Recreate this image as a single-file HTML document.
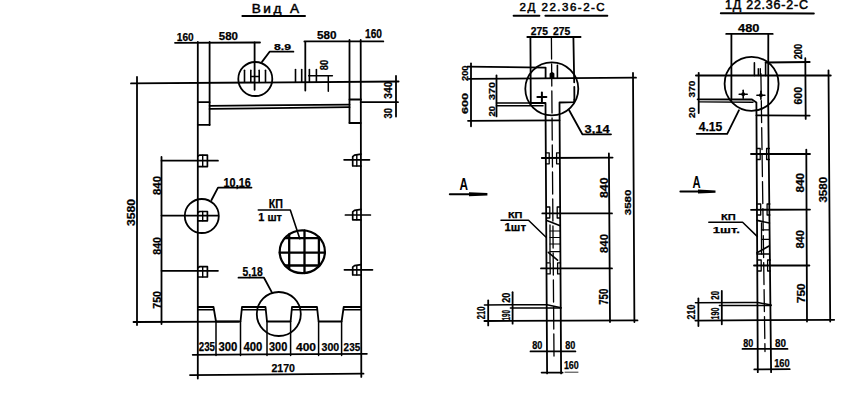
<!DOCTYPE html>
<html><head><meta charset="utf-8"><style>
html,body{margin:0;padding:0;background:#fff;}
body{width:860px;height:407px;overflow:hidden;}
svg{display:block;}
line,polyline,circle,ellipse{stroke:#000;fill:none;stroke-linecap:round;stroke-linejoin:round;}
text{font-family:"Liberation Sans",sans-serif;fill:#000;}
.t{font-weight:bold;stroke:#000;stroke-width:0.25px;}
.tt{font-weight:normal;stroke:#000;stroke-width:0.5px;}
.ta{font-weight:bold;}
</style></head><body>
<svg width="860" height="407" viewBox="0 0 860 407">
<text class="tt" x="251.7" y="12.5" font-size="13.61" textLength="47.5" lengthAdjust="spacing">Вид А</text>
<line x1="242.4" y1="15.9" x2="305.0" y2="15.9" stroke-width="2"/>
<line x1="175.0" y1="42.8" x2="260.0" y2="42.5" stroke-width="1.8"/>
<line x1="304.4" y1="41.4" x2="383.3" y2="41.4" stroke-width="1.8"/>
<text class="t" x="176.8" y="40.5" font-size="11.39" textLength="16.9" lengthAdjust="spacingAndGlyphs">160</text>
<text class="t" x="218.8" y="39.8" font-size="11.25" textLength="19.2" lengthAdjust="spacingAndGlyphs">580</text>
<text class="t" x="317.0" y="39.2" font-size="11.39" textLength="19.6" lengthAdjust="spacingAndGlyphs">580</text>
<text class="t" x="365.0" y="38.0" font-size="12.50" textLength="17.0" lengthAdjust="spacingAndGlyphs">160</text>
<line x1="197.8" y1="42.0" x2="197.8" y2="378.6" stroke-width="1.8"/>
<line x1="209.6" y1="42.0" x2="209.6" y2="125.0" stroke-width="1.8"/>
<line x1="305.3" y1="42.0" x2="305.3" y2="90.5" stroke-width="1.8"/>
<line x1="349.5" y1="40.0" x2="349.5" y2="123.0" stroke-width="1.8"/>
<line x1="360.7" y1="40.0" x2="361.3" y2="376.9" stroke-width="1.8"/>
<line x1="131.0" y1="83.4" x2="398.6" y2="81.5" stroke-width="1.8"/>
<line x1="197.8" y1="102.2" x2="209.6" y2="102.2" stroke-width="1.8"/>
<line x1="197.8" y1="124.8" x2="209.6" y2="124.8" stroke-width="1.8"/>
<line x1="349.5" y1="99.5" x2="361.0" y2="99.5" stroke-width="1.8"/>
<line x1="349.5" y1="123.0" x2="360.7" y2="123.0" stroke-width="1.8"/>
<line x1="209.6" y1="105.8" x2="349.5" y2="104.6" stroke-width="1.8"/>
<line x1="209.6" y1="108.9" x2="349.5" y2="107.2" stroke-width="1.8"/>
<line x1="396.0" y1="76.0" x2="396.0" y2="116.5" stroke-width="1.8"/>
<line x1="360.7" y1="102.2" x2="398.0" y2="102.2" stroke-width="1.8"/>
<text class="t" transform="translate(391.6,98.7) rotate(-90)" x="0" y="0" font-size="10.56" textLength="17.2" lengthAdjust="spacingAndGlyphs">340</text>
<text class="t" transform="translate(391.6,118.5) rotate(-90)" x="0" y="0" font-size="10.56" textLength="10.5" lengthAdjust="spacingAndGlyphs">30</text>
<circle cx="255.3" cy="79.0" r="17.0" stroke-width="1.8"/>
<line x1="254.6" y1="42.5" x2="254.6" y2="89.8" stroke-width="1.8"/>
<line x1="244.5" y1="70.2" x2="244.5" y2="82.0" stroke-width="1.6"/>
<line x1="250.8" y1="70.2" x2="250.8" y2="82.0" stroke-width="1.6"/>
<line x1="259.2" y1="70.2" x2="259.2" y2="82.0" stroke-width="1.6"/>
<line x1="265.5" y1="70.2" x2="265.5" y2="82.0" stroke-width="1.6"/>
<line x1="250.8" y1="76.5" x2="259.2" y2="76.5" stroke-width="1.3"/>
<text class="t" x="274.0" y="49.6" font-size="8.47" textLength="17.0" lengthAdjust="spacingAndGlyphs">8.9</text>
<polyline points="262.0,61.9 269.6,51.7 293.4,51.7" stroke-width="1.8"/>
<line x1="295.5" y1="69.5" x2="295.5" y2="82.0" stroke-width="1.6"/>
<line x1="301.7" y1="69.5" x2="301.7" y2="82.0" stroke-width="1.6"/>
<line x1="309.4" y1="69.5" x2="309.4" y2="82.0" stroke-width="1.6"/>
<line x1="316.4" y1="69.5" x2="316.4" y2="82.0" stroke-width="1.6"/>
<line x1="308.7" y1="75.8" x2="332.4" y2="75.8" stroke-width="1.5"/>
<line x1="328.3" y1="76.5" x2="328.3" y2="91.2" stroke-width="1.5"/>
<text class="t" transform="translate(328.0,70.2) rotate(-90)" x="0" y="0" font-size="10.28" textLength="10.4" lengthAdjust="spacingAndGlyphs">80</text>
<line x1="137.0" y1="77.0" x2="137.0" y2="325.0" stroke-width="1.8"/>
<line x1="133.5" y1="322.0" x2="238.5" y2="321.6" stroke-width="1.8"/>
<text class="t" transform="translate(134.5,226.0) rotate(-90)" x="0" y="0" font-size="11.11" textLength="27.0" lengthAdjust="spacingAndGlyphs">3580</text>
<line x1="161.5" y1="157.0" x2="161.5" y2="324.0" stroke-width="1.8"/>
<line x1="161.5" y1="160.7" x2="218.0" y2="160.7" stroke-width="1.7"/>
<polyline points="198.0,156.1 199.5,155.1 207.4,155.1 207.4,166.6 198.0,166.6" stroke-width="1.7"/>
<line x1="202.7" y1="155.1" x2="202.7" y2="166.6" stroke-width="1.4"/>
<line x1="161.5" y1="215.6" x2="218.0" y2="215.6" stroke-width="1.7"/>
<polyline points="198.0,212.5 199.5,211.5 207.4,211.5 207.4,220.8 198.0,220.8" stroke-width="1.7"/>
<line x1="202.7" y1="211.5" x2="202.7" y2="220.8" stroke-width="1.4"/>
<line x1="161.5" y1="270.8" x2="218.0" y2="270.8" stroke-width="1.7"/>
<polyline points="198.0,267.7 199.5,266.7 207.4,266.7 207.4,277.0 198.0,277.0" stroke-width="1.7"/>
<line x1="202.7" y1="266.7" x2="202.7" y2="277.0" stroke-width="1.4"/>
<text class="t" transform="translate(160.5,195.0) rotate(-90)" x="0" y="0" font-size="10.42" textLength="19.0" lengthAdjust="spacingAndGlyphs">840</text>
<text class="t" transform="translate(160.5,254.7) rotate(-90)" x="0" y="0" font-size="10.42" textLength="17.7" lengthAdjust="spacingAndGlyphs">840</text>
<text class="t" transform="translate(160.5,308.8) rotate(-90)" x="0" y="0" font-size="11.11" textLength="17.8" lengthAdjust="spacingAndGlyphs">750</text>
<line x1="344.1" y1="159.8" x2="369.5" y2="159.8" stroke-width="1.7"/>
<polyline points="361.0,154.1 354.5,155.1 352.7,156.6 352.7,166.0 361.0,166.0" stroke-width="1.7"/>
<line x1="356.8" y1="155.1" x2="356.8" y2="166.0" stroke-width="1.4"/>
<line x1="345.4" y1="215.0" x2="370.4" y2="215.0" stroke-width="1.7"/>
<polyline points="361.0,209.4 354.5,210.4 352.7,211.9 352.7,219.8 361.0,219.8" stroke-width="1.7"/>
<line x1="356.8" y1="210.4" x2="356.8" y2="219.8" stroke-width="1.4"/>
<line x1="344.4" y1="269.8" x2="372.5" y2="269.8" stroke-width="1.7"/>
<polyline points="361.0,264.6 354.5,265.6 352.7,267.1 352.7,275.0 361.0,275.0" stroke-width="1.7"/>
<line x1="356.8" y1="265.6" x2="356.8" y2="275.0" stroke-width="1.4"/>
<circle cx="201.8" cy="216.0" r="17.0" stroke-width="1.8"/>
<text class="t" x="223.6" y="186.8" font-size="12.22" textLength="27.1" lengthAdjust="spacingAndGlyphs">10,16</text>
<polyline points="211.5,200.0 218.0,187.6 251.5,187.6" stroke-width="1.8"/>
<text class="t" x="268.7" y="208.2" font-size="13.06" textLength="14.2" lengthAdjust="spacingAndGlyphs">КП</text>
<text class="t" x="258.3" y="221.4" font-size="11.67" textLength="23.7" lengthAdjust="spacingAndGlyphs">1 шт</text>
<polyline points="299.8,238.7 290.3,210.0 258.3,210.0" stroke-width="1.6"/>
<ellipse cx="302.3" cy="251.7" rx="22.6" ry="21.4" stroke-width="2.2"/>
<line x1="289.2" y1="234.3" x2="289.2" y2="269.1" stroke-width="2.3"/>
<line x1="304.5" y1="230.4" x2="304.5" y2="273.0" stroke-width="2.3"/>
<line x1="318.9" y1="237.2" x2="318.9" y2="266.2" stroke-width="2.3"/>
<line x1="284.9" y1="238.1" x2="319.7" y2="238.1" stroke-width="2.3"/>
<line x1="279.7" y1="252.7" x2="324.9" y2="252.7" stroke-width="2.3"/>
<line x1="285.0" y1="265.5" x2="319.6" y2="265.5" stroke-width="2.3"/>
<polyline points="197.8,307.0 213.5,307.0 216.0,321.5 240.5,321.5 242.0,307.0 265.5,307.0 267.0,321.5 290.6,321.5 292.0,307.0 317.0,307.0 318.6,321.5 341.6,321.5 343.7,307.0 360.7,307.0" stroke-width="1.8"/>
<line x1="197.8" y1="309.8" x2="213.5" y2="309.8" stroke-width="1.4"/>
<line x1="242.0" y1="309.8" x2="265.5" y2="309.8" stroke-width="1.4"/>
<line x1="292.0" y1="309.8" x2="317.0" y2="309.8" stroke-width="1.4"/>
<line x1="343.7" y1="309.8" x2="360.7" y2="309.8" stroke-width="1.4"/>
<line x1="216.0" y1="321.5" x2="216.0" y2="355.5" stroke-width="1.5"/>
<line x1="240.5" y1="321.5" x2="240.5" y2="355.5" stroke-width="1.5"/>
<line x1="267.0" y1="321.5" x2="267.0" y2="355.5" stroke-width="1.5"/>
<line x1="290.6" y1="321.5" x2="290.6" y2="355.5" stroke-width="1.5"/>
<line x1="318.6" y1="321.5" x2="318.6" y2="355.5" stroke-width="1.5"/>
<line x1="341.6" y1="321.5" x2="341.6" y2="355.5" stroke-width="1.5"/>
<circle cx="278.8" cy="314.0" r="22.0" stroke-width="1.8"/>
<text class="t" x="242.6" y="276.4" font-size="13.06" textLength="20.2" lengthAdjust="spacingAndGlyphs">5,18</text>
<polyline points="272.0,292.6 264.0,277.7 238.5,277.7" stroke-width="1.8"/>
<line x1="192.7" y1="354.8" x2="366.9" y2="353.8" stroke-width="1.8"/>
<text class="t" x="198.8" y="351.0" font-size="12.22" textLength="16.2" lengthAdjust="spacingAndGlyphs">235</text>
<text class="t" x="218.4" y="351.0" font-size="12.22" textLength="18.9" lengthAdjust="spacingAndGlyphs">300</text>
<text class="t" x="243.4" y="351.0" font-size="12.22" textLength="18.9" lengthAdjust="spacingAndGlyphs">400</text>
<text class="t" x="269.0" y="351.0" font-size="12.22" textLength="18.3" lengthAdjust="spacingAndGlyphs">300</text>
<text class="t" x="296.0" y="350.6" font-size="11.39" textLength="20.0" lengthAdjust="spacingAndGlyphs">400</text>
<text class="t" x="321.5" y="350.6" font-size="11.39" textLength="17.7" lengthAdjust="spacingAndGlyphs">300</text>
<text class="t" x="343.6" y="350.6" font-size="11.39" textLength="16.6" lengthAdjust="spacingAndGlyphs">235</text>
<line x1="190.0" y1="375.1" x2="363.5" y2="373.7" stroke-width="1.8"/>
<text class="t" x="271.4" y="371.9" font-size="11.25" textLength="23.6" lengthAdjust="spacingAndGlyphs">2170</text>
<text class="tt" x="519.6" y="11.4" font-size="11.53" textLength="85.1" lengthAdjust="spacing">2Д 22.36-2-С</text>
<line x1="513.6" y1="15.8" x2="539.4" y2="15.8" stroke-width="2"/>
<line x1="545.4" y1="15.8" x2="607.3" y2="15.8" stroke-width="2"/>
<text class="t" x="530.8" y="35.2" font-size="10.69" textLength="17.2" lengthAdjust="spacingAndGlyphs">275</text>
<text class="t" x="553.0" y="35.2" font-size="10.69" textLength="17.3" lengthAdjust="spacingAndGlyphs">275</text>
<line x1="527.3" y1="37.0" x2="580.6" y2="37.0" stroke-width="1.8"/>
<line x1="530.4" y1="37.0" x2="530.8" y2="103.0" stroke-width="1.8"/>
<line x1="573.4" y1="37.0" x2="574.2" y2="82.3" stroke-width="1.8"/>
<line x1="574.3" y1="86.8" x2="574.4" y2="99.5" stroke-width="1.8"/>
<line x1="551.4" y1="37.0" x2="554.0" y2="356.0" stroke-width="1.3" stroke-dasharray="22 5" stroke-linecap="butt"/>
<circle cx="551.8" cy="88.8" r="26.5" stroke-width="1.8"/>
<polyline points="467.5,66.6 545.6,67.6 545.6,78.0" stroke-width="1.8"/>
<line x1="468.8" y1="78.8" x2="636.0" y2="77.7" stroke-width="1.8"/>
<line x1="468.0" y1="120.8" x2="559.5" y2="120.3" stroke-width="1.8"/>
<line x1="471.0" y1="63.3" x2="471.0" y2="126.3" stroke-width="1.8"/>
<line x1="496.5" y1="75.4" x2="496.5" y2="116.4" stroke-width="1.8"/>
<line x1="496.5" y1="103.0" x2="543.0" y2="103.0" stroke-width="1.5"/>
<line x1="496.5" y1="105.8" x2="543.0" y2="105.8" stroke-width="1.5"/>
<polyline points="530.8,103.0 545.5,103.0 547.1,373.4" stroke-width="1.8"/>
<polyline points="574.4,99.5 574.0,102.2 559.5,102.5 561.1,373.4" stroke-width="1.8"/>
<line x1="557.4" y1="65.4" x2="557.4" y2="78.0" stroke-width="1.6"/>
<path d="M549.6,78 L549.6,73.5 Q552,70.5 554.4,73.5 L554.4,78 Z" fill="#000" stroke-width="1"/>
<line x1="537.4" y1="97.1" x2="546.4" y2="97.1" stroke-width="2"/>
<line x1="541.9" y1="92.6" x2="541.9" y2="101.6" stroke-width="2"/>
<text class="t" transform="translate(467.7,81.0) rotate(-90)" x="0" y="0" font-size="9.31" textLength="15.5" lengthAdjust="spacingAndGlyphs">200</text>
<text class="t" transform="translate(467.7,114.0) rotate(-90)" x="0" y="0" font-size="9.31" textLength="21.0" lengthAdjust="spacingAndGlyphs">600</text>
<text class="t" transform="translate(494.5,100.0) rotate(-90)" x="0" y="0" font-size="9.58" textLength="18.0" lengthAdjust="spacingAndGlyphs">370</text>
<text class="t" transform="translate(494.5,116.5) rotate(-90)" x="0" y="0" font-size="9.58" textLength="10.5" lengthAdjust="spacingAndGlyphs">20</text>
<polyline points="569.0,110.0 582.4,134.3 611.0,134.3" stroke-width="1.8"/>
<text class="t" x="584.6" y="132.9" font-size="11.39" textLength="25.0" lengthAdjust="spacingAndGlyphs">3,14</text>
<line x1="633.0" y1="73.0" x2="634.4" y2="322.0" stroke-width="1.8"/>
<line x1="541.8" y1="158.0" x2="612.6" y2="157.6" stroke-width="1.8"/>
<line x1="542.3" y1="213.4" x2="612.0" y2="213.4" stroke-width="1.8"/>
<line x1="541.0" y1="268.4" x2="612.0" y2="268.4" stroke-width="1.8"/>
<line x1="608.9" y1="153.5" x2="610.0" y2="322.0" stroke-width="1.8"/>
<polyline points="546.0,152.8 549.2,152.8 549.2,163.8 546.0,163.8" stroke-width="1.3"/>
<polyline points="559.5,152.8 556.6,152.8 556.6,163.8 559.5,163.8" stroke-width="1.3"/>
<polyline points="546.6,207.0 549.8,207.0 549.8,218.0 546.6,218.0" stroke-width="1.3"/>
<polyline points="560.1,207.0 557.2,207.0 557.2,218.0 560.1,218.0" stroke-width="1.3"/>
<polyline points="547.0,262.9 550.2,262.9 550.2,273.9 547.0,273.9" stroke-width="1.3"/>
<polyline points="560.5,262.9 557.6,262.9 557.6,273.9 560.5,273.9" stroke-width="1.3"/>
<text class="t" transform="translate(608.0,198.0) rotate(-90)" x="0" y="0" font-size="11.11" textLength="20.5" lengthAdjust="spacingAndGlyphs">840</text>
<text class="t" transform="translate(608.0,253.0) rotate(-90)" x="0" y="0" font-size="11.11" textLength="19.0" lengthAdjust="spacingAndGlyphs">840</text>
<text class="t" transform="translate(631.0,215.3) rotate(-90)" x="0" y="0" font-size="9.72" textLength="25.8" lengthAdjust="spacingAndGlyphs">3580</text>
<text class="t" transform="translate(607.6,304.7) rotate(-90)" x="0" y="0" font-size="11.94" textLength="15.9" lengthAdjust="spacingAndGlyphs">750</text>
<text class="ta" x="459.4" y="190.3" font-size="16.94" textLength="8.5" lengthAdjust="spacingAndGlyphs">А</text>
<line x1="449.8" y1="194.2" x2="470.0" y2="194.2" stroke-width="2"/>
<polygon points="469,192.2 487.4,193.1 487.4,195.4 469,196.3" fill="#000"/>
<text class="t" x="507.9" y="218.2" font-size="9.72" textLength="14.6" lengthAdjust="spacingAndGlyphs">КП</text>
<text class="t" x="504.5" y="231.2" font-size="10.00" textLength="21.5" lengthAdjust="spacingAndGlyphs">1шт</text>
<polyline points="545.8,237.0 528.5,220.3 501.0,220.3" stroke-width="1.5"/>
<polyline points="546.8,220.6 560.2,225.8" stroke-width="1.6"/>
<polyline points="548.3,252.3 557.5,260.2" stroke-width="1.6"/>
<line x1="550.0" y1="225.0" x2="550.0" y2="262.0" stroke-width="1.3"/>
<line x1="550.0" y1="231.0" x2="560.0" y2="231.0" stroke-width="1.2"/>
<line x1="550.0" y1="237.5" x2="560.0" y2="237.5" stroke-width="1.2"/>
<line x1="550.0" y1="244.0" x2="560.0" y2="244.0" stroke-width="1.2"/>
<line x1="550.0" y1="251.6" x2="560.0" y2="251.6" stroke-width="1.2"/>
<line x1="484.4" y1="321.0" x2="637.5" y2="320.4" stroke-width="1.8"/>
<polyline points="484.4,304.9 547.0,304.7 561.0,307.7" stroke-width="1.5"/>
<line x1="510.4" y1="308.0" x2="561.0" y2="307.9" stroke-width="1.5"/>
<line x1="488.2" y1="300.5" x2="488.2" y2="325.4" stroke-width="1.8"/>
<line x1="512.6" y1="292.2" x2="512.6" y2="323.7" stroke-width="1.8"/>
<text class="t" transform="translate(484.9,319.3) rotate(-90)" x="0" y="0" font-size="10.69" textLength="12.7" lengthAdjust="spacingAndGlyphs">210</text>
<text class="t" transform="translate(509.8,302.7) rotate(-90)" x="0" y="0" font-size="10.83" textLength="10.0" lengthAdjust="spacingAndGlyphs">20</text>
<text class="t" transform="translate(509.8,320.4) rotate(-90)" x="0" y="0" font-size="10.83" textLength="10.5" lengthAdjust="spacingAndGlyphs">190</text>
<text class="t" x="532.2" y="348.9" font-size="10.28" textLength="10.1" lengthAdjust="spacingAndGlyphs">80</text>
<text class="t" x="565.3" y="348.9" font-size="10.28" textLength="10.1" lengthAdjust="spacingAndGlyphs">80</text>
<line x1="530.5" y1="351.4" x2="575.4" y2="351.4" stroke-width="1.8"/>
<text class="t" x="563.9" y="368.5" font-size="11.25" textLength="14.9" lengthAdjust="spacingAndGlyphs">160</text>
<line x1="565.0" y1="372.2" x2="578.0" y2="372.2" stroke-width="0.8"/>
<line x1="541.6" y1="372.6" x2="562.6" y2="372.6" stroke-width="1.8"/>
<text class="tt" x="724.9" y="8.7" font-size="12.50" textLength="83.1" lengthAdjust="spacing">1Д 22.36-2-С</text>
<line x1="720.8" y1="13.2" x2="813.8" y2="13.4" stroke-width="2"/>
<text class="t" x="738.0" y="31.7" font-size="11.25" textLength="21.4" lengthAdjust="spacingAndGlyphs">480</text>
<line x1="726.2" y1="33.9" x2="772.7" y2="33.9" stroke-width="1.8"/>
<line x1="731.4" y1="33.9" x2="731.4" y2="100.1" stroke-width="1.8"/>
<polyline points="768.3,33.9 768.2,103.0 771.1,372.2" stroke-width="1.8"/>
<circle cx="751.6" cy="83.8" r="27.0" stroke-width="1.8"/>
<line x1="765.6" y1="62.5" x2="809.7" y2="62.0" stroke-width="1.8"/>
<line x1="696.0" y1="75.6" x2="830.7" y2="75.4" stroke-width="2"/>
<polyline points="697.6,99.3 752.0,99.5 756.4,102.5 757.8,372.2" stroke-width="1.8"/>
<line x1="698.7" y1="101.9" x2="753.0" y2="102.2" stroke-width="1.4"/>
<line x1="756.4" y1="115.3" x2="809.7" y2="115.6" stroke-width="1.8"/>
<line x1="805.3" y1="58.2" x2="805.7" y2="118.9" stroke-width="1.8"/>
<line x1="828.5" y1="70.3" x2="830.2" y2="321.5" stroke-width="1.8"/>
<line x1="698.7" y1="72.8" x2="698.7" y2="113.0" stroke-width="1.8"/>
<line x1="739.2" y1="94.2" x2="747.2" y2="94.2" stroke-width="1.6"/>
<line x1="743.2" y1="90.2" x2="743.2" y2="98.2" stroke-width="1.6"/>
<circle cx="743.2" cy="94.2" r="1.9" style="fill:#000;stroke:none"/>
<line x1="756.9" y1="95.2" x2="764.9" y2="95.2" stroke-width="1.6"/>
<line x1="760.9" y1="91.2" x2="760.9" y2="99.2" stroke-width="1.6"/>
<circle cx="760.9" cy="95.2" r="1.9" style="fill:#000;stroke:none"/>
<line x1="754.4" y1="62.8" x2="754.4" y2="75.6" stroke-width="1.6"/>
<line x1="758.3" y1="68.7" x2="758.3" y2="75.6" stroke-width="1.4"/>
<line x1="760.3" y1="68.7" x2="760.3" y2="75.6" stroke-width="1.4"/>
<line x1="765.6" y1="62.8" x2="765.6" y2="75.6" stroke-width="1.6"/>
<line x1="760.9" y1="73.6" x2="765.0" y2="351.5" stroke-width="1.3" stroke-dasharray="22 5" stroke-linecap="butt"/>
<text class="t" transform="translate(802.0,59.3) rotate(-90)" x="0" y="0" font-size="10.69" textLength="15.5" lengthAdjust="spacingAndGlyphs">200</text>
<text class="t" transform="translate(802.0,104.6) rotate(-90)" x="0" y="0" font-size="10.69" textLength="17.7" lengthAdjust="spacingAndGlyphs">600</text>
<text class="t" transform="translate(694.8,97.4) rotate(-90)" x="0" y="0" font-size="9.58" textLength="16.7" lengthAdjust="spacingAndGlyphs">370</text>
<text class="t" transform="translate(694.8,118.0) rotate(-90)" x="0" y="0" font-size="9.58" textLength="10.8" lengthAdjust="spacingAndGlyphs">20</text>
<text class="t" x="698.7" y="130.8" font-size="12.22" textLength="23.6" lengthAdjust="spacingAndGlyphs">4.15</text>
<polyline points="739.0,110.2 727.2,133.8 696.7,133.8" stroke-width="1.8"/>
<line x1="751.0" y1="154.0" x2="810.0" y2="154.0" stroke-width="1.8"/>
<line x1="751.0" y1="209.8" x2="810.0" y2="209.6" stroke-width="1.8"/>
<line x1="754.0" y1="265.5" x2="809.4" y2="265.5" stroke-width="1.8"/>
<line x1="806.3" y1="149.6" x2="807.0" y2="321.5" stroke-width="1.8"/>
<polyline points="757.2,148.5 760.2,148.5 760.2,159.5 757.2,159.5" stroke-width="1.3"/>
<polyline points="769.4,148.5 766.6,148.5 766.6,159.5 769.4,159.5" stroke-width="1.3"/>
<polyline points="757.7,204.0 760.7,204.0 760.7,215.0 757.7,215.0" stroke-width="1.3"/>
<polyline points="769.9,204.0 767.1,204.0 767.1,215.0 769.9,215.0" stroke-width="1.3"/>
<polyline points="758.2,260.0 761.2,260.0 761.2,271.0 758.2,271.0" stroke-width="1.3"/>
<polyline points="770.4,260.0 767.6,260.0 767.6,271.0 770.4,271.0" stroke-width="1.3"/>
<text class="t" transform="translate(803.6,192.6) rotate(-90)" x="0" y="0" font-size="10.00" textLength="19.6" lengthAdjust="spacingAndGlyphs">840</text>
<text class="t" transform="translate(804.4,248.6) rotate(-90)" x="0" y="0" font-size="10.28" textLength="18.6" lengthAdjust="spacingAndGlyphs">840</text>
<text class="t" transform="translate(826.5,202.6) rotate(-90)" x="0" y="0" font-size="10.42" textLength="25.8" lengthAdjust="spacingAndGlyphs">3580</text>
<text class="t" transform="translate(805.0,303.1) rotate(-90)" x="0" y="0" font-size="10.00" textLength="19.7" lengthAdjust="spacingAndGlyphs">750</text>
<text class="ta" x="692.6" y="188.0" font-size="16.94" textLength="8.1" lengthAdjust="spacingAndGlyphs">А</text>
<line x1="680.4" y1="191.5" x2="699.0" y2="191.5" stroke-width="2"/>
<polygon points="698,189.6 715.5,190.4 715.5,192.7 698,193.5" fill="#000"/>
<text class="t" x="721.0" y="219.5" font-size="9.72" textLength="14.8" lengthAdjust="spacingAndGlyphs">КП</text>
<text class="t" x="712.8" y="232.6" font-size="9.44" textLength="27.1" lengthAdjust="spacingAndGlyphs">1шт.</text>
<polyline points="757.4,236.6 742.6,222.3 708.8,222.3" stroke-width="1.5"/>
<polyline points="757.0,220.4 769.4,223.0" stroke-width="1.6"/>
<line x1="757.0" y1="252.8" x2="769.0" y2="246.0" stroke-width="1.6"/>
<line x1="761.5" y1="223.0" x2="761.5" y2="254.0" stroke-width="1.3"/>
<line x1="761.5" y1="229.9" x2="769.4" y2="229.9" stroke-width="1.2"/>
<line x1="761.5" y1="239.3" x2="769.4" y2="239.3" stroke-width="1.2"/>
<line x1="757.0" y1="254.0" x2="769.5" y2="254.0" stroke-width="1.3"/>
<line x1="695.4" y1="320.6" x2="834.2" y2="319.8" stroke-width="1.8"/>
<polyline points="695.4,302.8 745.0,302.4 757.8,302.5 771.1,305.0" stroke-width="1.5"/>
<line x1="719.4" y1="305.5" x2="771.1" y2="305.5" stroke-width="1.5"/>
<line x1="698.4" y1="298.5" x2="698.4" y2="326.0" stroke-width="1.8"/>
<line x1="721.8" y1="291.0" x2="721.8" y2="324.3" stroke-width="1.8"/>
<text class="t" transform="translate(695.4,319.4) rotate(-90)" x="0" y="0" font-size="10.28" textLength="14.8" lengthAdjust="spacingAndGlyphs">210</text>
<text class="t" transform="translate(719.4,299.7) rotate(-90)" x="0" y="0" font-size="11.11" textLength="8.7" lengthAdjust="spacingAndGlyphs">20</text>
<text class="t" transform="translate(719.4,319.4) rotate(-90)" x="0" y="0" font-size="11.11" textLength="11.7" lengthAdjust="spacingAndGlyphs">190</text>
<text class="t" x="743.3" y="346.8" font-size="11.39" textLength="10.0" lengthAdjust="spacingAndGlyphs">80</text>
<text class="t" x="775.0" y="346.8" font-size="11.39" textLength="11.0" lengthAdjust="spacingAndGlyphs">80</text>
<line x1="742.5" y1="348.9" x2="787.5" y2="348.9" stroke-width="1.8"/>
<text class="t" x="774.2" y="367.0" font-size="10.83" textLength="15.5" lengthAdjust="spacingAndGlyphs">160</text>
<line x1="754.3" y1="369.4" x2="789.7" y2="369.2" stroke-width="1.8"/>
</svg>
</body></html>
